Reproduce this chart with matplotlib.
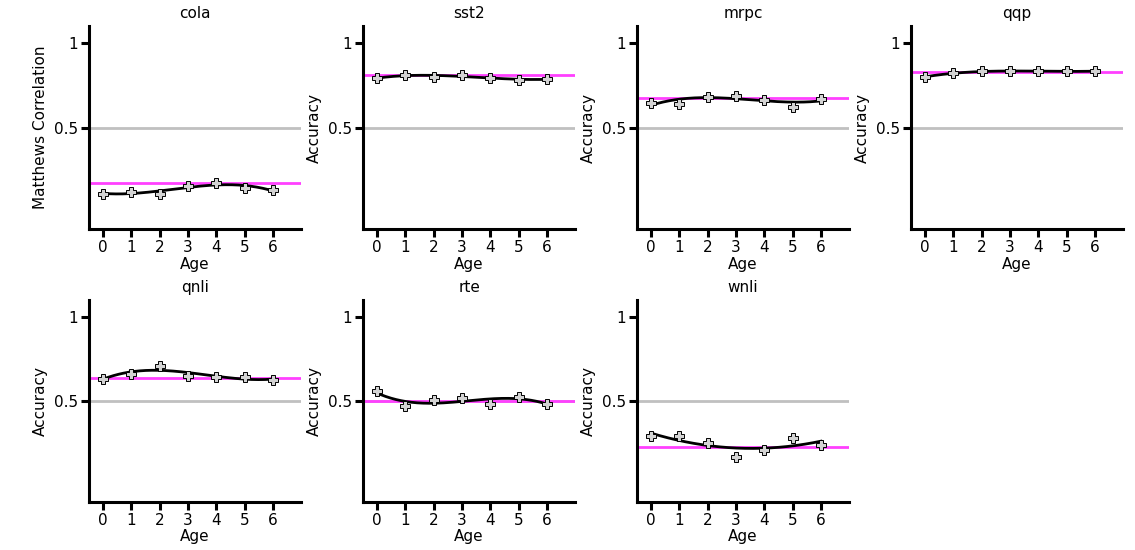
import numpy as np
import matplotlib
matplotlib.use("Agg")
import matplotlib.pyplot as plt

tasks = ["cola", "sst2", "mrpc", "qqp", "qnli", "rte", "wnli"]
ylabels = ["Matthews Correlation", "Accuracy", "Accuracy", "Accuracy",
           "Accuracy", "Accuracy", "Accuracy"]
ages = [0, 1, 2, 3, 4, 5, 6]

cola = [0.109, 0.119, 0.109, 0.153, 0.171, 0.145, 0.129]
sst2 = [0.792, 0.810, 0.800, 0.811, 0.790, 0.784, 0.786]
mrpc = [0.643, 0.641, 0.683, 0.689, 0.665, 0.623, 0.669]
qqp = [0.800, 0.820, 0.833, 0.833, 0.833, 0.833, 0.833]
qnli = [0.632, 0.662, 0.709, 0.650, 0.642, 0.644, 0.626]
rte = [0.557, 0.470, 0.504, 0.520, 0.482, 0.524, 0.482]
wnli = [0.294, 0.294, 0.253, 0.170, 0.211, 0.283, 0.241]
series = [cola, sst2, mrpc, qqp, qnli, rte, wnli]

baselines = [0.174, 0.808, 0.673, 0.829, 0.636, 0.500, 0.225]
chance = 0.5

plt.rcParams['font.family'] = ['DejaVu Sans']
fig = plt.figure(figsize=(11.35, 5.5), dpi=100)

col_left = [0.0784, 0.3198, 0.5612, 0.8026]
width = 0.187
rows = [(0.5836, 0.369), (0.0873, 0.367)]

for i, name in enumerate(tasks):
    r, c = divmod(i, 4)
    b, h = rows[r]
    ax = fig.add_axes([col_left[c], b, width, h])
    x = np.array(ages, dtype=float)
    y = np.array(series[i])
    ax.axhline(chance, color="#c0c0c0", lw=2, zorder=1)
    ax.axhline(baselines[i], color="#ff40ff", lw=2, zorder=2)
    coef = np.polyfit(x, y, 3)
    xs = np.linspace(x.min(), x.max(), 200)
    ax.plot(xs, np.polyval(coef, xs), color="black", lw=2, zorder=3)
    ax.plot(x, y, linestyle="none", marker="P", markersize=7,
            markerfacecolor="#d3d3d3", markeredgecolor="black",
            markeredgewidth=0.7, zorder=4)
    ax.set_xlim(-0.5, 7)
    ax.set_ylim(-0.1, 1.1)
    ax.set_xticks(ages)
    ax.set_yticks([0.5, 1])
    ax.set_yticklabels(["0.5", "1"])
    for s in ["top", "right"]:
        ax.spines[s].set_visible(False)
    for s in ["left", "bottom"]:
        ax.spines[s].set_linewidth(2.2)
    ax.tick_params(width=2.2, length=6, labelsize=11, pad=2)
    ax.set_xlabel("Age", fontsize=11, labelpad=1)
    ax.set_ylabel(ylabels[i], fontsize=11)
    ax.set_title(name, fontsize=11, pad=6)

fig.savefig("out.png", dpi=100)
